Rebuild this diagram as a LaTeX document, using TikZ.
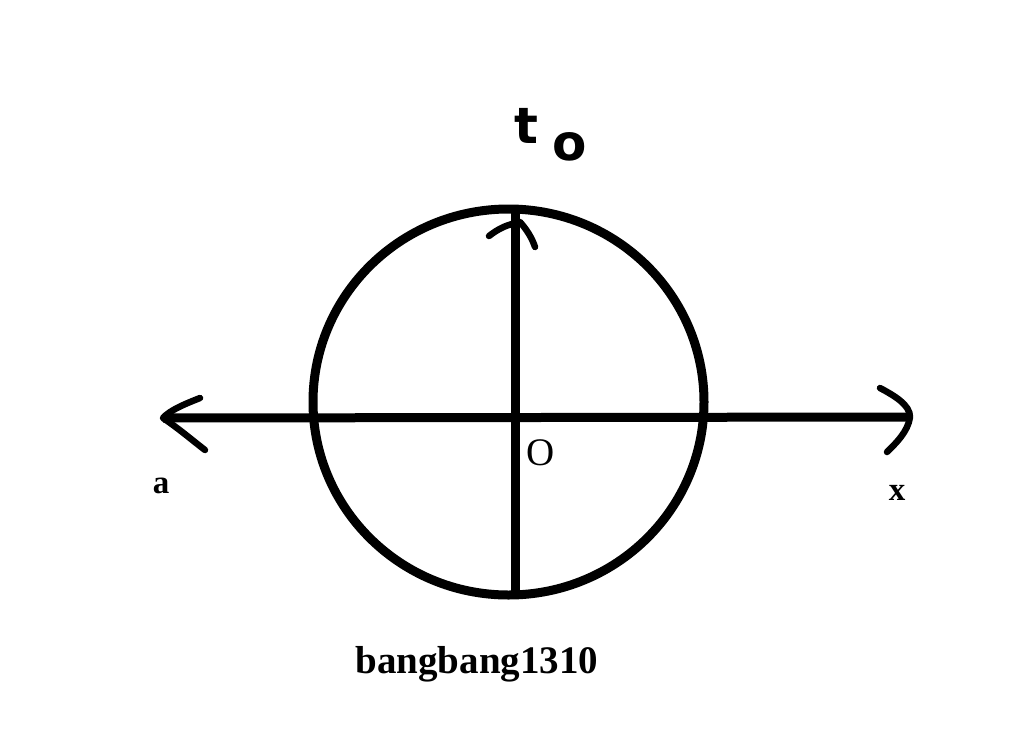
\documentclass[tikz,border=0pt]{standalone}
\usepackage{fontspec}
\setmainfont{Liberation Serif}
\newfontfamily\handfont{DejaVu Sans}
\begin{document}
\begin{tikzpicture}[x=1pt,y=-1pt,
  axisline/.style={line width=9pt},
  ring/.style={line width=9pt},
  headline/.style={line width=6.5pt,line cap=round,line join=round},
  boldlabel/.style={inner sep=0pt,anchor=base,font=\fontsize{33}{33}\selectfont\bfseries},
  biglabel/.style={inner sep=0pt,anchor=base,font=\fontsize{39}{39}\selectfont\bfseries},
  originlabel/.style={inner sep=0pt,anchor=base,font=\fontsize{39}{39}\selectfont},
  handlabel/.style={inner sep=0pt,anchor=base west,font=\handfont\bfseries\fontsize{50}{50}\selectfont}]
\useasboundingbox[fill=white] (0,0) rectangle (1024,739);
% coordinates
\coordinate (C) at (508.5,402);
\coordinate (L) at (163,418);
\coordinate (R) at (907,417);
\coordinate (T) at (515,205);
\coordinate (B) at (515,599);
% circle
\draw[ring] (C) ellipse [x radius=195.5, y radius=193];
% axes
\draw[axisline] (L) -- (R);
\draw[axisline] (T) -- (B);
% left arrow head
\draw[headline] (200,398) .. controls (185,404) and (170,410) .. (L)
  .. controls (178,428) and (192,440) .. (205,450);
% right arrow head
\draw[headline] (880,388) .. controls (895,396) and (910,405) .. (910,417)
  .. controls (908,432) and (895,444) .. (887,452);
% up arrow head
\draw[headline] (489,236) .. controls (498,229) and (505,226) .. (512,224);
\draw[headline] (520,222) .. controls (527,230) and (532,238) .. (535,247);
% labels
\node[handlabel] (t0) at (514,143) {t\hspace{14pt}\raisebox{-17pt}{o}};
\node[originlabel] (O) at (541,465) {O};
\node[boldlabel] (a) at (161,493) {a};
\node[boldlabel] (x) at (897,500) {x};
\node[biglabel] (sig) at (477,673) {bangbang1310};
\end{tikzpicture}
\end{document}
